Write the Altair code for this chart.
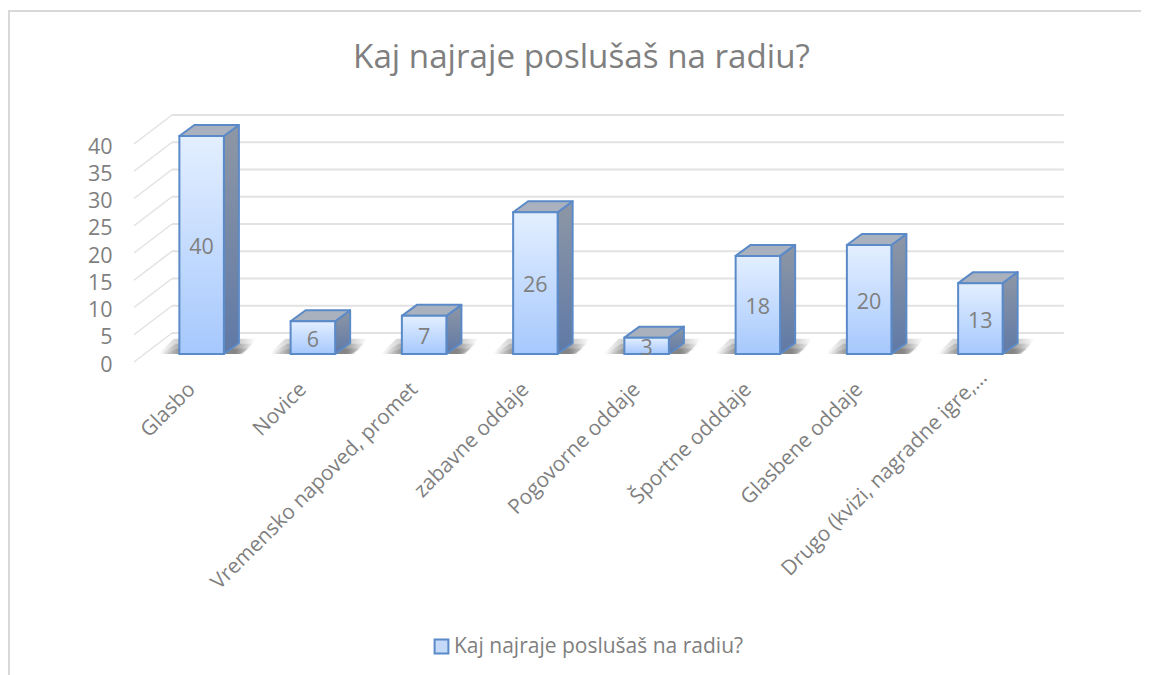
import altair as alt
import pandas as pd

categories = ["Glasbo", "Novice", "Vremensko napoved, promet", "zabavne oddaje",
              "Pogovorne oddaje", "Športne odddaje", "Glasbene oddaje",
              "Drugo (kvizi, nagradne igre,…"]
values = [40, 6, 7, 26, 3, 18, 20, 13]
y_ticks = [0, 5, 10, 15, 20, 25, 30, 35, 40]
series_name = "Kaj najraje poslušaš na radiu?"

FONT = "Open Sans"
GRAY = "#7f7f7f"
W, H = 1133, 667
BAR_W = 0.40
DX, DY = 0.135, 2.02          # bar depth in data units
WALL_DX, WALL_DY = 0.234, 3.853  # back wall offset
LEFT_X, LEFT_Y = -0.108, -1.468  # front edge of side wall

x_scale = alt.Scale(domain=[0, 8], range=[138, 1028], nice=False, zero=False)
y_scale = alt.Scale(domain=[0, 40], range=[346, 128], nice=False, zero=False)

x_axis = alt.Axis(
    values=[i + 0.5 for i in range(len(categories))],
    labelExpr="%s[round(datum.value - 0.5)]" % (str(categories)),
    title=None, domain=False, ticks=False, grid=False,
    orient="bottom", offset=-289,
    labelOffset={"condition": {"test": "datum.value > 7", "value": 3}, "value": -10},
    labelPadding={"condition": {"test": "datum.value > 7", "value": -12}, "value": 0},
    labelAngle=-45, labelAlign="right",
    labelBaseline="middle",
    labelFontSize=20.8, labelFont=FONT, labelColor=GRAY, labelLimit=500,
    labelOverlap=False, labelBound=False, labelFlush=False)
y_axis = alt.Axis(
    values=y_ticks, title=None, domain=False, ticks=False, grid=False,
    orient="left", offset=-104, labelOffset=11, labelPadding=0,
    labelFontSize=21.5, labelFont=FONT, labelColor=GRAY)

front, side, top, shadow, labels = [], [], [], [], []
for i, (c, v) in enumerate(zip(categories, values)):
    l, r = i + 0.5 - BAR_W / 2, i + 0.5 + BAR_W / 2
    front.append(dict(cat=c, l=l, r=r, v=v, base=0))
    labels.append(dict(x=i + 0.5, y=v / 2, t=str(v)))
    side += [dict(cat=c, x=r, y=v, y2=0), dict(cat=c, x=r + DX, y=v + DY, y2=DY)]
    top += [dict(cat=c, x=l, y=v, y2=v), dict(cat=c, x=l + DX, y=v + DY, y2=v),
            dict(cat=c, x=r, y=v + DY, y2=v), dict(cat=c, x=r + DX, y=v + DY, y2=v + DY)]
    for lev, (sh, ext) in enumerate([(2.8, 0.0), (1.9, -0.02), (1.0, -0.04)]):
        key = f"{c}-{lev}"
        shadow += [dict(cat=key, x=l - 0.19 - ext, y=0, y2=0),
                   dict(cat=key, x=l - 0.05 - ext, y=sh, y2=0),
                   dict(cat=key, x=r + 0.17 + ext, y=sh, y2=0),
                   dict(cat=key, x=r + 0.29 + ext, y=sh, y2=sh)]

grid = [dict(v=t, x=WALL_DX, x2=8.25, y=t + WALL_DY) for t in y_ticks]
diag = []
for t in y_ticks:
    diag += [dict(k=t, x=LEFT_X, y=t + LEFT_Y), dict(k=t, x=WALL_DX, y=t + WALL_DY)]

X = alt.X("x:Q", scale=x_scale, axis=x_axis)
Y = alt.Y("y:Q", scale=y_scale, axis=y_axis)


def grad(stops, vertical=True):
    return alt.Gradient(gradient="linear",
                        x1=0, x2=0 if vertical else 1,
                        y1=0, y2=1 if vertical else 0,
                        stops=[alt.GradientStop(color=c, offset=o) for o, c in stops])


frame_top = alt.Chart(pd.DataFrame({"a": [0]})).mark_rule(color="#d9d9d9", strokeWidth=2).encode(
    x=alt.value(0), x2=alt.value(W), y=alt.value(3))
frame_left = alt.Chart(pd.DataFrame({"a": [0]})).mark_rule(color="#d9d9d9", strokeWidth=2).encode(
    y=alt.value(3), y2=alt.value(H), x=alt.value(1))

grid_layer = alt.Chart(pd.DataFrame(grid)).mark_rule(color="#e2e2e2", strokeWidth=2).encode(
    x=X, x2="x2:Q", y=Y)

diag_layer = alt.Chart(pd.DataFrame(diag)).mark_line(color="#e2e2e2", strokeWidth=1.5).encode(
    x=X, y=Y, detail="k:N")

shadow_layer = alt.Chart(pd.DataFrame(shadow)).mark_area(
    fill=grad([(0, "rgba(70,70,70,0)"), (0.25, "rgba(70,70,70,0.3)"),
               (0.8, "rgba(70,70,70,0.3)"), (1, "rgba(70,70,70,0)")], vertical=False),
    stroke=None).encode(x=X, y=Y, y2="y2:Q", detail="cat:N")

side_layer = alt.Chart(pd.DataFrame(side)).mark_area(
    fill=grad([(0, "#8e97a5"), (1, "#5f79a6")]), stroke="#5b8ac8", strokeWidth=2,
    strokeJoin="round").encode(x=X, y=Y, y2="y2:Q", detail="cat:N")

top_layer = alt.Chart(pd.DataFrame(top)).mark_area(
    fill="#a9b1bf", stroke="#5b8ac8", strokeWidth=2, strokeJoin="round").encode(
    x=X, y=Y, y2="y2:Q", detail="cat:N")

front_layer = alt.Chart(pd.DataFrame(front)).mark_bar(
    fill=grad([(0, "#e3efff"), (1, "#a6c8fd")]), stroke="#5b8ac8", strokeWidth=2).encode(
    x=alt.X("l:Q", scale=x_scale, axis=x_axis), x2="r:Q",
    y=alt.Y("v:Q", scale=y_scale, axis=y_axis), y2="base:Q")

text_layer = alt.Chart(pd.DataFrame(labels)).mark_text(
    font=FONT, fontSize=21.5, color=GRAY, dy=3).encode(x=X, y=Y, text="t:N")

legend_layer = alt.Chart(pd.DataFrame({"s": [series_name], "x": [4], "y": [20]})).mark_square(
    size=0, opacity=0).encode(
    x=X, y=Y,
    color=alt.Color("s:N", scale=alt.Scale(range=["#c5d9f8"]), legend=alt.Legend(
        orient="none", legendX=423, legendY=628, title=None,
        symbolType="square", symbolSize=190, symbolOpacity=1,
        symbolFillColor="#c9dbf8", symbolStrokeColor="#5b8ac8", symbolStrokeWidth=2,
        labelFont=FONT, labelFontSize=21, labelColor=GRAY, labelLimit=500, labelOffset=2)))

chart = alt.layer(frame_top, frame_left, grid_layer, diag_layer, shadow_layer,
                  side_layer, top_layer, front_layer, text_layer, legend_layer).properties(
    width=W, height=H,
    padding=0,
    autosize=alt.AutoSizeParams(type="none"),
    background="white",
    title=alt.TitleParams(series_name, font=FONT, fontSize=33.2, fontWeight="normal", color=GRAY,
                          anchor="middle", dx=7, dy=67, offset=0),
).configure_view(stroke=None)

chart.save("out.html", embed_options={"renderer": "svg", "actions": False})
